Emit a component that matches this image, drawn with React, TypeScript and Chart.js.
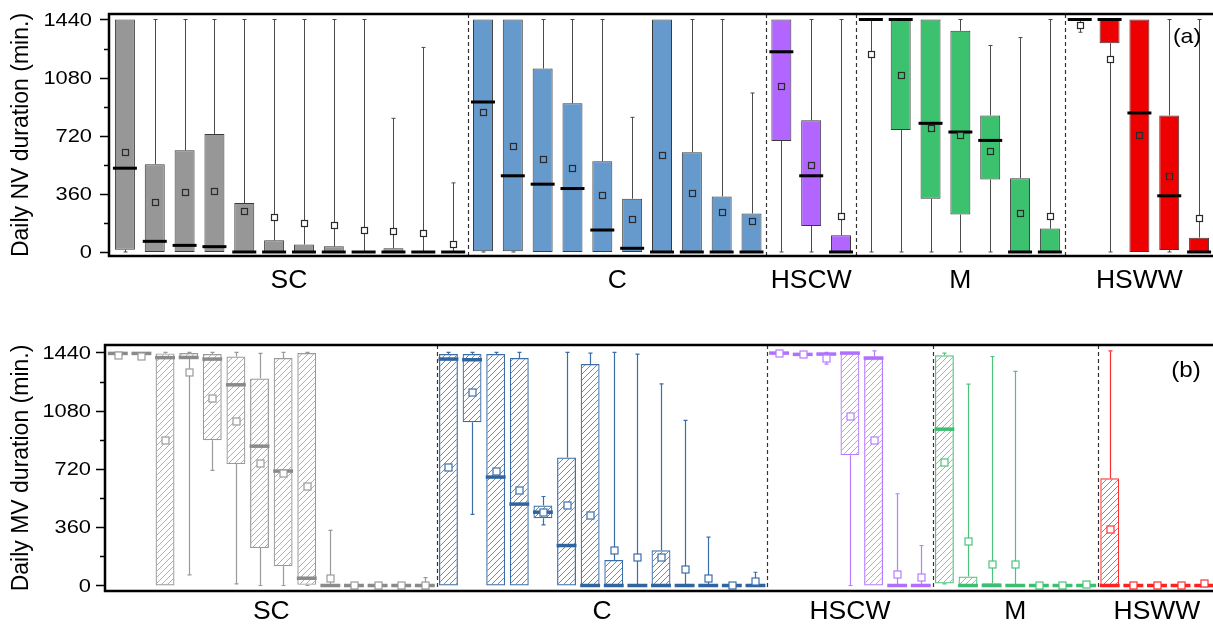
import React, { useEffect, useRef } from "react";
import { Chart, registerables } from "chart.js";
Chart.register(...registerables);

// ---------- shared ----------
const groupNames = ["SC", "C", "HSCW", "M", "HSWW"];
const yTickValues = [0, 360, 720, 1080, 1440];
const yMinorTickValues = [180, 540, 900, 1260];

// ---------- panel (a): Daily NV duration ----------
const nvGroupSizes = [12, 10, 3, 7, 5];
const nvMin = [
  0, 0, 0, 0, 0, 0, 0, 0, 0, 0, 0, 0,
  0, 0, 0, 0, 0, 0, 0, 0, 0, 0,
  0, 0, 0,
  0, 0, 0, 0, 0, 0, 0,
  1361, 0, 0, 0, 0,
];
const nvQ1 = [
  14, 0, 0, 0, 0, 0, 0, 0, 0, 0, 0, 0,
  4, 4, 0, 0, 0, 0, 0, 0, 0, 0,
  688, 161, 0,
  1440, 755, 329, 232, 449, 0, 0,
  1430, 1293, 0, 12, 0,
];
const nvMedian = [
  519, 66, 41, 33, 0, 0, 0, 0, 0, 0, 0, 0,
  929, 472, 420, 393, 136, 23, 0, 0, 0, 0,
  1240, 472, 0,
  1440, 1440, 797, 743, 691, 0, 0,
  1440, 1440, 861, 348, 0,
];
const nvQ3 = [
  1440, 544, 630, 731, 303, 72, 47, 35, 0, 23, 0, 0,
  1440, 1440, 1137, 921, 562, 330, 1440, 618, 344, 239,
  1440, 816, 103,
  1440, 1440, 1440, 1370, 846, 457, 145,
  1440, 1440, 1440, 846, 89,
];
const nvMax = [
  1440, 1440, 1440, 1440, 1440, 1440, 1440, 1440, 1440, 828, 1267, 428,
  1440, 1440, 1440, 1440, 1440, 834, 1440, 1440, 1440, 985,
  1440, 1440, 1440,
  1440, 1440, 1440, 1440, 1279, 1328, 1440,
  1440, 1440, 1440, 1440, 1440,
];
const nvMean = [
  622, 307, 369, 375, 253, 214, 179, 165, 136, 130, 115, 52,
  869, 657, 575, 519, 356, 206, 601, 363, 249, 192,
  1030, 538, 220,
  1225, 1094, 770, 726, 623, 242, 221,
  1407, 1198, 726, 468, 209,
];

// ---------- panel (b): Daily MV duration ----------
const mvGroupSizes = [14, 14, 7, 7, 5];
const mvMin = [
  1425, 1425, 0, 66, 711, 10, 0, 0, 0, 0, 0, 0, 0, 0,
  0, 439, 0, 0, 375, 0, 0, 0, 0, 0, 0, 0, 0, 0,
  1428, 1420, 1368, 0, 0, 0, 0,
  10, 0, 0, 0, 0, 0, 0,
  0, 0, 0, 0, 0,
];
const mvQ1 = [
  1428, 1428, 0, 1409, 898, 750, 231, 119, 4, 0, 0, 0, 0, 0,
  0, 1009, 0, 0, 416, 0, 0, 0, 0, 0, 0, 0, 0, 0,
  1432, 1425, 1425, 805, 0, 0, 0,
  12, 0, 0, 0, 0, 0, 0,
  0, 0, 0, 0, 0,
];
const mvMedian = [
  1434, 1434, 1408, 1409, 1399, 1240, 861, 707, 45, 0, 0, 0, 0, 0,
  1399, 1395, 670, 503, 453, 247, 0, 0, 0, 0, 0, 0, 0, 0,
  1436, 1428, 1430, 1436, 1405, 0, 0,
  966, 0, 0, 0, 0, 0, 0,
  0, 0, 0, 0, 0,
];
const mvQ3 = [
  1440, 1440, 1434, 1436, 1430, 1415, 1279, 1405, 1436, 0, 0, 0, 0, 0,
  1430, 1430, 1430, 1405, 494, 791, 1368, 157, 0, 218, 0, 0, 0, 0,
  1440, 1432, 1434, 1440, 1415, 0, 0,
  1423, 56, 14, 0, 0, 0, 0,
  663, 0, 0, 0, 0,
];
const mvMax = [
  1440, 1440, 1440, 1440, 1440, 1440, 1434, 1440, 1440, 340, 0, 0, 0, 49,
  1440, 1440, 1440, 1440, 550, 1440, 1436, 1440, 1430, 1246, 1020, 299, 0, 82,
  1440, 1436, 1440, 1440, 1450, 567, 247,
  1436, 1244, 1415, 1323, 0, 0, 20,
  1450, 0, 0, 0, 0,
];
const mvMean = [
  1425, 1420, 898, 1318, 1156, 1016, 754, 698, 612, 45, 0, 0, 0, 0,
  733, 1194, 709, 587, 453, 496, 435, 222, 179, 173, 101, 45, 0, 29,
  1436, 1428, 1407, 1050, 896, 72, 52,
  762, 278, 130, 130, 0, 0, 8,
  352, 0, 0, 0, 14,
];

// ---------- styles ----------
const nvFillColors = ["#979797", "#6699cc", "#b366ff", "#3cc16e", "#ee0000"];
const mvLineColors = ["#9a9a9a", "#3b6ea8", "#b77dff", "#4cc47c", "#ff3030"];
const mvMedianColors = ["#8a8a8a", "#2f64a0", "#b070ff", "#3cbf70", "#ff2020"];
const FONT = "'Liberation Sans', Arial, sans-serif";

function hatch(color: string) {
  const c = document.createElement("canvas");
  c.width = 6;
  c.height = 6;
  const g = c.getContext("2d")!;
  g.strokeStyle = color;
  g.lineWidth = 0.8;
  g.beginPath();
  g.moveTo(0, 6); g.lineTo(6, 0);
  g.moveTo(-3, 3); g.lineTo(3, -3);
  g.moveTo(3, 9); g.lineTo(9, 3);
  g.stroke();
  return g.createPattern(c, "repeat")!;
}

type PanelCfg = {
  sizes: number[];
  min: number[]; q1: number[]; med: number[]; q3: number[]; max: number[]; mean: number[];
  fill: any[]; border: string[]; whisker: string[]; median: string[]; meanStroke: string[];
  meanFilled: boolean;
  barPct: number; borderWidth: number; whiskerWidth: number; medianWidth: number; medianExt: number; meanSize: number;
  title: string; titleX: number; labelRight: number; groupLabelY: number;
  tag: string; tagX: number; tagY: number; tagSize: number;
  yMin: number; yMax: number; axisW: number; xH: number; padTop: number; padRight: number;
};

function groupIndex(sizes: number[]) {
  const out: number[] = [];
  sizes.forEach((s, g) => { for (let k = 0; k < s; k++) out.push(g); });
  return out;
}

function decoPlugin(p: PanelCfg) {
  const gi = groupIndex(p.sizes);
  return {
    id: "boxDeco",
    beforeDatasetsDraw(chart: any) {
      const { ctx, chartArea: ca } = chart;
      const x = chart.scales.x, y = chart.scales.y;
      ctx.save();
      // dashed group separators
      ctx.strokeStyle = "#333";
      ctx.lineWidth = 1.2;
      ctx.setLineDash([4, 3]);
      let acc = 0;
      for (let g = 0; g < p.sizes.length - 1; g++) {
        acc += p.sizes[g];
        const px = Math.round((x.getPixelForValue(acc - 1) + x.getPixelForValue(acc)) / 2) + 0.5;
        ctx.beginPath();
        ctx.moveTo(px, ca.top);
        ctx.lineTo(px, ca.bottom);
        ctx.stroke();
      }
      ctx.setLineDash([]);
      // whiskers
      for (let i = 0; i < gi.length; i++) {
        const cx = Math.round(x.getPixelForValue(i)) + 0.5;
        ctx.strokeStyle = p.whisker[gi[i]];
        ctx.lineWidth = p.whiskerWidth;
        const seg = (a: number, b: number) => {
          if (a === b) return;
          const ya = y.getPixelForValue(a), yb = y.getPixelForValue(b);
          ctx.beginPath();
          ctx.moveTo(cx, ya);
          ctx.lineTo(cx, yb);
          ctx.moveTo(cx - 2, yb);
          ctx.lineTo(cx + 2, yb);
          ctx.stroke();
        };
        seg(p.q3[i], p.max[i]);
        seg(p.q1[i], p.min[i]);
      }
      ctx.restore();
    },
    afterDatasetsDraw(chart: any) {
      const { ctx, chartArea: ca } = chart;
      const x = chart.scales.x, y = chart.scales.y;
      const meta = chart.getDatasetMeta(0);
      ctx.save();
      // medians
      for (let i = 0; i < gi.length; i++) {
        const cx = x.getPixelForValue(i);
        const bw = meta.data[i].width;
        const ym = y.getPixelForValue(p.med[i]);
        ctx.strokeStyle = p.median[gi[i]];
        ctx.lineWidth = p.medianWidth;
        ctx.beginPath();
        ctx.moveTo(cx - bw / 2 - p.medianExt, ym);
        ctx.lineTo(cx + bw / 2 + p.medianExt, ym);
        ctx.stroke();
      }
      // means
      for (let i = 0; i < gi.length; i++) {
        const cx = Math.round(x.getPixelForValue(i)) + 0.5;
        const ym = Math.round(y.getPixelForValue(p.mean[i])) + 0.5;
        const s = p.meanSize;
        if (p.meanFilled) {
          const inside = p.mean[i] >= p.q1[i] && p.mean[i] <= p.q3[i];
          ctx.fillStyle = inside ? (p.fill[gi[i]] as string) : "#ffffff";
        } else ctx.fillStyle = "#ffffff";
        ctx.fillRect(cx - s / 2, ym - s / 2, s, s);
        ctx.strokeStyle = p.meanStroke[gi[i]];
        ctx.lineWidth = 1.2;
        ctx.strokeRect(cx - s / 2, ym - s / 2, s, s);
      }
      // frame and axes
      ctx.strokeStyle = "#000";
      ctx.lineWidth = 2.5;
      ctx.beginPath();
      ctx.moveTo(ca.left - 1, ca.top);
      ctx.lineTo(ca.right + 10, ca.top);
      ctx.moveTo(ca.left - 1, ca.bottom);
      ctx.lineTo(ca.right + 10, ca.bottom);
      ctx.moveTo(ca.left - 1, ca.top - 1.2);
      ctx.lineTo(ca.left - 1, ca.bottom + 1.2);
      ctx.stroke();
      // y ticks
      ctx.lineWidth = 1.5;
      ctx.beginPath();
      yTickValues.forEach((v) => {
        const py = Math.round(y.getPixelForValue(v)) + 0.5;
        ctx.moveTo(ca.left - 2, py);
        ctx.lineTo(ca.left - 10, py);
      });
      yMinorTickValues.forEach((v) => {
        const py = Math.round(y.getPixelForValue(v)) + 0.5;
        ctx.moveTo(ca.left - 2, py);
        ctx.lineTo(ca.left - 6, py);
      });
      ctx.stroke();
      // tick labels
      ctx.fillStyle = "#000";
      ctx.font = `19px ${FONT}`;
      ctx.textAlign = "right";
      ctx.textBaseline = "middle";
      yTickValues.forEach((v) => {
        ctx.save();
        ctx.translate(p.labelRight, y.getPixelForValue(v) + 1);
        ctx.scale(1.15, 1);
        ctx.fillText(String(v), 0, 0);
        ctx.restore();
      });
      // axis title
      ctx.save();
      ctx.translate(p.titleX, (ca.top + ca.bottom) / 2);
      ctx.rotate(-Math.PI / 2);
      ctx.textAlign = "center";
      ctx.font = `23px ${FONT}`;
      ctx.fillText(p.title, 0, 0);
      ctx.restore();
      // group labels
      ctx.font = `25px ${FONT}`;
      ctx.textAlign = "center";
      let start = 0;
      p.sizes.forEach((s, g) => {
        const cx = (x.getPixelForValue(start) + x.getPixelForValue(start + s - 1)) / 2;
        ctx.save();
        ctx.translate(cx, p.groupLabelY);
        ctx.scale(1.06, 1);
        ctx.fillText(groupNames[g], 0, 0);
        ctx.restore();
        start += s;
      });
      // panel tag
      ctx.save();
      ctx.font = `${p.tagSize}px ${FONT}`;
      ctx.translate(p.tagX, p.tagY);
      ctx.scale(1.1, 1);
      ctx.fillText(p.tag, 0, 0);
      ctx.restore();
      ctx.restore();
    },
  };
}

function makeChart(canvas: HTMLCanvasElement, p: PanelCfg) {
  const gi = groupIndex(p.sizes);
  const labels = gi.map((g, i) => `${groupNames[g]}-${i}`);
  return new Chart(canvas, {
    type: "bar",
    data: {
      labels,
      datasets: [
        {
          data: p.q1.map((v, i) => [v, p.q3[i]]) as any,
          backgroundColor: gi.map((g) => p.fill[g]),
          borderColor: gi.map((g) => p.border[g]),
          borderWidth: p.borderWidth,
          borderSkipped: false,
          barPercentage: p.barPct,
          categoryPercentage: 1,
        },
      ],
    },
    options: {
      responsive: false,
      animation: false,
      devicePixelRatio: 1,
      layout: { padding: { top: p.padTop, right: p.padRight, left: 0, bottom: 0 } },
      plugins: { legend: { display: false }, tooltip: { enabled: false }, title: { display: false } },
      scales: {
        x: {
          type: "category",
          offset: true,
          ticks: { display: false },
          grid: { display: false, drawTicks: false },
          border: { display: false },
          afterFit: (s: any) => { s.height = p.xH; },
        },
        y: {
          type: "linear",
          min: p.yMin,
          max: p.yMax,
          ticks: { display: false },
          grid: { display: false, drawTicks: false },
          border: { display: false },
          afterFit: (s: any) => { s.width = p.axisW; },
        },
      },
    },
    plugins: [decoPlugin(p)],
  } as any);
}

export default function App() {
  const refA = useRef<HTMLCanvasElement>(null);
  const refB = useRef<HTMLCanvasElement>(null);

  useEffect(() => {
    const cfgA: PanelCfg = {
      sizes: nvGroupSizes,
      min: nvMin, q1: nvQ1, med: nvMedian, q3: nvQ3, max: nvMax, mean: nvMean,
      fill: nvFillColors,
      border: nvFillColors.map(() => "#3a3a3a"),
      whisker: nvFillColors.map(() => "#4a4a4a"),
      median: nvFillColors.map(() => "#000000"),
      meanStroke: nvFillColors.map(() => "#2a2a2a"),
      meanFilled: true,
      barPct: 0.67, borderWidth: 1, whiskerWidth: 1, medianWidth: 3, medianExt: 2, meanSize: 6,
      title: "Daily NV duration (min.)", titleX: 22, labelRight: 92, groupLabelY: 281,
      tag: "(a)", tagX: 1187, tagY: 37, tagSize: 21,
      yMin: -24.8, yMax: 1474, axisW: 110, xH: 54, padTop: 14, padRight: 6,
    };
    const cfgB: PanelCfg = {
      sizes: mvGroupSizes,
      min: mvMin, q1: mvQ1, med: mvMedian, q3: mvQ3, max: mvMax, mean: mvMean,
      fill: mvLineColors.map((c) => hatch(c)),
      border: mvLineColors,
      whisker: mvLineColors,
      median: mvMedianColors,
      meanStroke: mvLineColors,
      meanFilled: false,
      barPct: 0.8, borderWidth: 1.2, whiskerWidth: 1.2, medianWidth: 3.5, medianExt: 0.5, meanSize: 7,
      title: "Daily MV duration (min.)", titleX: 22, labelRight: 91, groupLabelY: 292,
      tag: "(b)", tagX: 1186, tagY: 51, tagSize: 22,
      yMin: -34, yMax: 1486, axisW: 106, xH: 37, padTop: 25, padRight: 4,
    };
    const a = makeChart(refA.current!, cfgA);
    const b = makeChart(refB.current!, cfgB);
    return () => {
      a.destroy();
      b.destroy();
    };
  }, []);

  return (
    <div
      style={{
        position: "absolute",
        left: 0,
        top: 0,
        width: 1213,
        height: 628,
        overflow: "hidden",
        background: "#fff",
      }}
    >
      <canvas ref={refA} width={1220} height={310} style={{ position: "absolute", left: 0, top: 0, width: 1220, height: 310 }} />
      <canvas ref={refB} width={1220} height={308} style={{ position: "absolute", left: 0, top: 320, width: 1220, height: 308 }} />
    </div>
  );
}
